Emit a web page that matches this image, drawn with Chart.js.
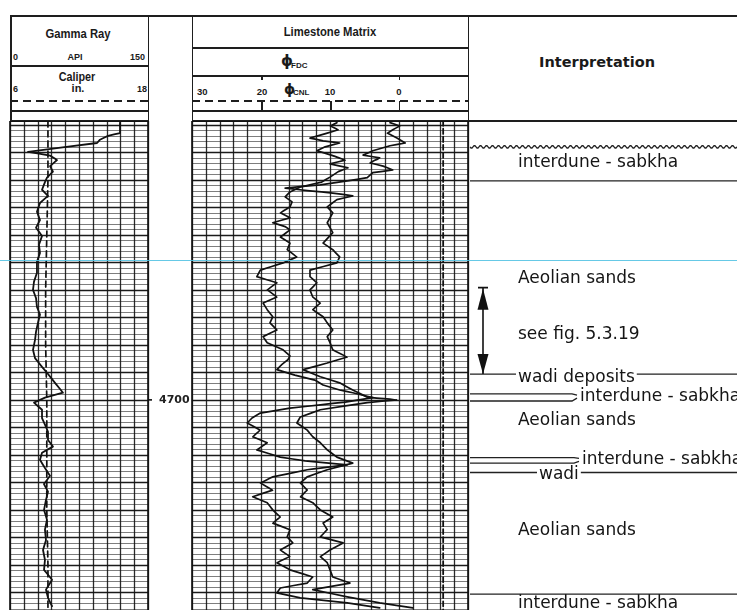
<!DOCTYPE html>
<html><head><meta charset="utf-8">
<script src="https://cdn.jsdelivr.net/npm/chart.js@4.4.0/dist/chart.umd.min.js"></script>
<style>
html,body{margin:0;padding:0;background:#fff;}
#wrap{position:relative;width:737px;height:610px;overflow:hidden;background:#fff;font-family:"Liberation Sans",Arial,sans-serif;color:#1a1a1a;}
.ln{position:absolute;background:#1e1e1e;}
.dash{position:absolute;height:1.6px;background:repeating-linear-gradient(to right,#1e1e1e 0 8px,transparent 8px 13px);}
.t{position:absolute;white-space:nowrap;font-weight:bold;line-height:1;}
.c{transform:translate(-50%,-50%);}
.l{transform:translateY(-50%);}
.r{transform:translate(-100%,-50%);}
canvas{position:absolute;}
#cyan{position:absolute;left:0;top:260px;width:737px;height:1.2px;background:#55c3e3;opacity:.9;z-index:5;}
</style></head>
<body><div id="wrap">
  <!-- header frame -->
  <div class="ln" style="left:10px;top:15px;width:727px;height:1.5px"></div>
  <div class="ln" style="left:10px;top:15px;width:1.5px;height:106px"></div>
  <div class="ln" style="left:147.5px;top:15px;width:1.5px;height:106px"></div>
  <div class="ln" style="left:10px;top:65px;width:138px;height:1.5px"></div>
  <div class="ln" style="left:10px;top:110px;width:138px;height:1.5px"></div>
  <div class="ln" style="left:10px;top:120px;width:138px;height:1.5px"></div>
  <div class="dash" style="left:10px;top:100px;width:138px"></div>

  <div class="ln" style="left:191.5px;top:15px;width:1.5px;height:106px"></div>
  <div class="ln" style="left:467.5px;top:15px;width:1.5px;height:106px"></div>
  <div class="ln" style="left:192px;top:47px;width:276px;height:1.5px"></div>
  <div class="ln" style="left:192px;top:75px;width:276px;height:1.5px"></div>
  <div class="ln" style="left:192px;top:110px;width:276px;height:1.5px"></div>
  <div class="ln" style="left:192px;top:120px;width:545px;height:1.5px"></div>
  <div class="dash" style="left:192px;top:100px;width:276px"></div>
  <div class="ln" style="left:261px;top:75px;width:1.5px;height:5px"></div>
  <div class="ln" style="left:398.5px;top:75px;width:1.5px;height:5px"></div>
  <div class="ln" style="left:261px;top:101px;width:1.5px;height:9px"></div>
  <div class="ln" style="left:330px;top:101px;width:1.5px;height:9px"></div>
  <div class="ln" style="left:398.5px;top:101px;width:1.5px;height:9px"></div>

  <!-- track 1 header text -->
  <div class="t" style="left:78px;top:34px;font-size:12.5px;transform:translate(-50%,-50%) scaleX(.9)">Gamma Ray</div>
  <div class="t l" style="left:13px;top:57px;font-size:9px">0</div>
  <div class="t c" style="left:75px;top:57px;font-size:9px">API</div>
  <div class="t r" style="left:145px;top:57px;font-size:9px">150</div>
  <div class="t" style="left:77px;top:77px;font-size:12px;transform:translate(-50%,-50%) scaleX(.9)">Caliper</div>
  <div class="t l" style="left:13px;top:89px;font-size:9px">6</div>
  <div class="t c" style="left:78px;top:88px;font-size:11px">in.</div>
  <div class="t r" style="left:147px;top:89px;font-size:9px">18</div>

  <!-- track 2 header text -->
  <div class="t" style="left:330px;top:32px;font-size:12.5px;transform:translate(-50%,-50%) scaleX(.9)">Limestone Matrix</div>
  <div class="t l" style="left:281px;top:61px;font-size:15px;font-family:'DejaVu Sans'">ϕ</div>
  <div class="t l" style="left:291px;top:66px;font-size:8px">FDC</div>
  <div class="t l" style="left:197px;top:92px;font-size:9.5px">30</div>
  <div class="t c" style="left:262px;top:92px;font-size:9.5px">20</div>
  <div class="t l" style="left:284px;top:89px;font-size:14px;font-family:'DejaVu Sans'">ϕ</div>
  <div class="t l" style="left:293px;top:93px;font-size:8px">CNL</div>
  <div class="t c" style="left:330px;top:92px;font-size:9.5px">10</div>
  <div class="t c" style="left:399px;top:92px;font-size:9.5px">0</div>

  <div class="t c" style="left:597px;top:62px;font-size:14.5px;font-family:'DejaVu Sans'">Interpretation</div>

  <canvas id="c1" width="184" height="489" style="left:8px;top:121px"></canvas>
  <canvas id="c2" width="281" height="489" style="left:190px;top:121px"></canvas>
  <canvas id="c3" width="269" height="489" style="left:468px;top:121px"></canvas>
  <div id="cyan"></div>
</div>
<script>
// ---------- data ----------
const depthTop = 4649.3, depthBottom = 4738.2;
const depthLabels = [4700];

const grGridValues = [0,15,30,45,60,75,90,105,120,135,150];
const phiGridValues = [30,28,26,24,22,20,18,16,14,12,10,8,6,4,2,0,-2,-4,-6,-8,-10];

const depthGR = [4649.6,4651.5,4652.0,4652.7,4653.3,4654.9,4655.6,4656.4,4657.5,4658.5,4659.6,4660.4,4661.8,4662.9,4664.2,4665.8,4667.3,4668.7,4670.2,4671.8,4673.3,4674.9,4676.9,4678.5,4680.0,4681.5,4683.1,4684.5,4686.0,4687.6,4689.1,4690.9,4692.4,4694.0,4695.3,4696.9,4698.7,4699.6,4700.5,4701.8,4703.3,4704.5,4705.8,4707.3,4708.5,4709.6,4710.9,4712.4,4713.8,4715.3,4716.7,4718.2,4720.0,4721.8,4723.6,4725.5,4727.3,4729.1,4730.9,4732.7,4734.5,4736.0,4737.5];
const gammaRay = [119.6,119.6,106.5,97.8,94.6,19.6,43.5,51.1,43.5,46.7,40.2,38.0,34.8,41.3,32.6,29.3,32.6,28.3,34.8,31.5,32.6,29.3,29.3,26.1,25.0,28.3,29.3,32.6,30.4,28.3,27.2,25.0,27.2,34.8,41.3,48.9,57.6,38.0,26.1,34.8,34.8,38.0,41.3,41.3,46.7,34.8,32.6,38.0,43.5,36.9,41.3,39.1,37.0,40.2,38.0,39.1,35.9,38.0,37.0,45.7,39.1,41.3,45.7];

const depthCAL = [4649.3,4660,4670,4680,4690,4700,4710,4720,4730,4738.2];
const caliper = [9.3,9.3,9.2,9.1,9.1,9.2,9.2,9.2,9.3,9.3];

const depthFDC = [4649.6,4650.2,4650.9,4651.5,4652.4,4652.9,4653.3,4654.0,4654.7,4655.6,4656.4,4657.1,4657.8,4658.5,4659.5,4660.4,4661.3,4662.2,4663.1,4664.0,4664.9,4666.0,4666.9,4667.8,4668.5,4669.1,4670.4,4671.5,4672.7,4674.0,4675.1,4676.4,4677.6,4678.7,4680.0,4681.3,4682.4,4683.6,4684.9,4686.0,4687.3,4688.5,4689.6,4690.9,4692.0,4692.7,4693.6,4694.5,4695.5,4696.4,4697.3,4698.2,4698.7,4699.6,4700.4,4700.9,4701.5,4702.4,4703.3,4704.2,4705.5,4706.7,4707.8,4709.1,4710.4,4711.1,4711.8,4712.4,4712.7,4714.0,4715.1,4716.4,4717.6,4718.7,4720.0,4721.3,4722.4,4723.6,4724.9,4726.0,4727.3,4728.5,4729.6,4730.9,4732.2,4733.3,4734.2,4735.1,4736.0,4736.9,4737.8];
const phiFDC = [9.0,10.0,8.8,10.4,12.9,11.0,8.6,10.7,11.9,9.6,7.8,10.0,7.4,8.8,10.0,11.2,14.3,15.8,16.5,15.5,15.8,17.2,15.8,18.3,16.5,15.8,17.2,15.8,16.2,14.8,16.8,20.1,20.6,17.7,19.1,17.7,19.7,19.1,18.3,18.7,17.7,19.7,19.1,16.8,15.8,16.1,17.0,17.7,15.1,12.2,11.0,8.6,6.7,3.8,7.8,11.4,15.8,20.1,21.3,22.0,20.1,21.2,19.1,20.6,17.2,13.6,7.5,11.4,13.3,18.3,20.1,18.3,21.2,19.1,18.3,17.2,18.3,15.8,16.2,15.4,17.2,15.8,17.7,15.8,12.5,13.3,17.2,17.7,14.3,7.5,2.8];

const depthCNL = [4649.6,4650.2,4650.9,4651.5,4652.4,4653.3,4653.8,4654.7,4655.5,4656.0,4656.9,4657.5,4658.2,4658.7,4659.6,4660.2,4660.9,4661.5,4662.0,4662.4,4662.9,4663.6,4664.9,4666.0,4667.8,4669.6,4671.5,4672.7,4674.0,4675.1,4676.4,4677.6,4678.7,4680.0,4681.3,4682.4,4683.6,4684.9,4686.0,4687.3,4688.5,4689.6,4690.9,4692.2,4693.3,4694.5,4695.8,4696.9,4698.2,4699.5,4700.0,4700.5,4701.8,4703.1,4704.2,4705.5,4706.7,4707.8,4709.1,4710.4,4711.5,4712.7,4714.0,4715.1,4716.4,4717.6,4718.7,4720.0,4721.3,4722.4,4723.6,4724.9,4726.0,4727.3,4728.5,4729.6,4730.9,4732.2,4733.3,4734.5,4735.8,4736.9,4737.8];
const phiCNL = [1.3,-0.1,0.9,1.7,0.3,-0.9,1.3,3.8,5.2,2.8,4.2,2.3,0.9,3.8,4.6,7.5,11.4,16.5,12.9,9.6,6.7,9.0,10.4,9.6,10.4,9.6,11.0,9.6,8.6,9.0,12.9,12.9,11.9,12.9,12.5,11.4,12.5,11.0,10.4,9.6,10.4,10.0,9.6,7.5,10.4,13.9,11.4,8.6,6.7,4.6,0.3,4.6,11.4,14.3,14.8,13.3,12.5,11.4,10.4,9.0,6.7,10.4,13.3,14.3,13.3,14.3,12.5,11.4,9.6,11.0,10.4,11.4,8.1,10.0,11.4,10.4,10.0,9.6,7.1,12.5,7.5,2.8,-2.0];

const depthRef = [4649.3,4738.2];
const refCurve = [-6.4,-6.4];

const zoneLabels = ['interdune - sabkha','Aeolian sands','see fig. 5.3.19','wadi deposits','interdune - sabkha','Aeolian sands','interdune - sabkha','wadi','Aeolian sands','interdune - sabkha'];
const zoneLabelDepths = [4656.9,4678.0,4688.2,4696.0,4699.4,4703.8,4710.9,4713.6,4723.8,4737.1];
const zoneLineDepths = [4654.0,4660.2,4695.3,4698.9,4700.2,4710.5,4711.5,4713.2,4735.3];
const arrowDepths = [4679.6,4695.3];

// ---------- helpers ----------
const pts = (ds, vs) => ds.map((d, i) => ({x: vs[i], y: d}));

const trackPlugin = {
  id: 'track',
  beforeDatasetsDraw(chart, args, o) {
    const {ctx, chartArea: a, scales: {x, y}} = chart;
    ctx.save();
    for (let d = Math.ceil(y.min); d <= y.max; d++) {
      const py = Math.round(y.getPixelForValue(d)) + 0.5;
      const heavy = d % 5 === 0;
      ctx.strokeStyle = heavy ? 'rgba(15,15,15,0.95)' : 'rgba(40,40,40,0.6)';
      ctx.lineWidth = heavy ? 1.6 : 1;
      ctx.beginPath(); ctx.moveTo(a.left, py); ctx.lineTo(a.right, py); ctx.stroke();
    }
    ctx.strokeStyle = 'rgba(20,20,20,0.9)';
    ctx.lineWidth = 1.3;
    o.xValues.forEach(v => {
      const px = Math.round(x.getPixelForValue(v)) + 0.5;
      ctx.beginPath(); ctx.moveTo(px, a.top); ctx.lineTo(px, a.bottom); ctx.stroke();
    });
    ctx.restore();
  },
  afterDraw(chart, args, o) {
    const {ctx, chartArea: a, scales: {y}} = chart;
    ctx.save();
    ctx.strokeStyle = '#111'; ctx.lineWidth = 1.6;
    ctx.strokeRect(a.left, a.top, a.right - a.left, a.bottom - a.top + 4);
    if (o.depthLabels) {
      ctx.fillStyle = '#222';
      ctx.font = 'bold 11px "DejaVu Sans"';
      ctx.textBaseline = 'middle';
      o.depthLabels.forEach(d => {
        const py = y.getPixelForValue(d);
        ctx.beginPath(); ctx.moveTo(a.right, py); ctx.lineTo(a.right + 4, py); ctx.stroke();
        ctx.fillText(String(d), a.right + 11, py);
      });
    }
    ctx.restore();
  }
};

const baseOpts = (xmin, xmax, rev, pad, plugOpts) => ({
  responsive: false, animation: false, devicePixelRatio: 1,
  layout: {padding: pad},
  plugins: {legend: {display: false}, tooltip: {enabled: false}, track: plugOpts},
  elements: {point: {radius: 0}, line: {tension: 0.001, borderCapStyle: 'round', borderJoinStyle: 'round'}},
  scales: {
    x: {type: 'linear', display: false, min: xmin, max: xmax, reverse: rev},
    y: {type: 'linear', display: false, min: depthTop, max: depthBottom, reverse: true}
  }
});

new Chart(document.getElementById('c1'), {
  type: 'line',
  data: {datasets: [
    {label: 'Gamma Ray (API)', data: pts(depthGR, gammaRay), borderColor: '#111', borderWidth: 1.8, xAxisID: 'x'},
    {label: 'Caliper (in.)', data: pts(depthCAL, caliper), borderColor: '#111', borderWidth: 1.7, borderDash: [6, 4], xAxisID: 'xc'}
  ]},
  options: (() => {
    const o = baseOpts(0, 150, false, {left: 2, right: 44, top: 0, bottom: 0}, {xValues: grGridValues, depthLabels: depthLabels});
    o.scales.xc = {type: 'linear', display: false, min: 6, max: 18};
    return o;
  })(),
  plugins: [trackPlugin]
});

new Chart(document.getElementById('c2'), {
  type: 'line',
  data: {datasets: [
    {label: 'φFDC', data: pts(depthFDC, phiFDC), borderColor: '#111', borderWidth: 1.7},
    {label: 'φCNL', data: pts(depthCNL, phiCNL), borderColor: '#111', borderWidth: 1.7},
    {label: 'ref', data: pts(depthRef, refCurve), borderColor: '#111', borderWidth: 1.8, borderDash: [5, 3]}
  ]},
  options: baseOpts(-10, 30, true, {left: 2, right: 3, top: 0, bottom: 0}, {xValues: phiGridValues}),
  plugins: [trackPlugin]
});

const interpPlugin = {
  id: 'interp',
  afterDraw(chart, args, o) {
    const {ctx, chartArea: a, scales: {y}} = chart;
    ctx.save();
    ctx.font = '17px "DejaVu Sans"';
    ctx.fillStyle = '#151515';
    ctx.textBaseline = 'middle';
    const widths = zoneLabels.map(t => ctx.measureText(t).width);
    zoneLabels.forEach((t, i) => ctx.fillText(t, o.labelX[i], y.getPixelForValue(zoneLabelDepths[i])));
    ctx.strokeStyle = '#222'; ctx.lineWidth = 1.3;
    const x0 = a.left + 2;
    zoneLineDepths.forEach((d, i) => {
      const py = y.getPixelForValue(d);
      const s = o.lines[i];
      ctx.beginPath();
      if (s.k === 'wavy') {
        for (let x = x0; x <= a.right; x += 1) {
          const yy = py + 1.3 * Math.sin((x - x0) / 6 * 2 * Math.PI);
          if (x === x0) ctx.moveTo(x, yy); else ctx.lineTo(x, yy);
        }
      } else if (s.k === 'full') {
        ctx.moveTo(x0, py); ctx.lineTo(a.right, py);
      } else if (s.k === 'to') {
        const lx = o.labelX[s.label];
        const ly = y.getPixelForValue(zoneLabelDepths[s.label]);
        ctx.moveTo(x0, py); ctx.lineTo(lx - 8, py); ctx.lineTo(lx - 3, ly + (py < ly ? -1.5 : 1.5));
      } else if (s.k === 'gap') {
        const lx = o.labelX[s.label];
        ctx.moveTo(x0, py); ctx.lineTo(lx - 2, py);
        ctx.moveTo(lx + widths[s.label] + 2, py); ctx.lineTo(a.right, py);
      }
      ctx.stroke();
    });
    // arrow
    const ax = a.left + 15;
    const p1 = y.getPixelForValue(arrowDepths[0]);
    const p2 = y.getPixelForValue(arrowDepths[1]);
    ctx.strokeStyle = '#111'; ctx.fillStyle = '#111'; ctx.lineWidth = 1.6;
    ctx.beginPath(); ctx.moveTo(ax - 5, p1); ctx.lineTo(ax + 5, p1); ctx.moveTo(ax, p1); ctx.lineTo(ax, p2); ctx.stroke();
    ctx.beginPath(); ctx.moveTo(ax, p1 + 1); ctx.lineTo(ax - 5.5, p1 + 22); ctx.lineTo(ax + 5.5, p1 + 22); ctx.closePath(); ctx.fill();
    ctx.beginPath(); ctx.moveTo(ax, p2); ctx.lineTo(ax - 5.5, p2 - 20); ctx.lineTo(ax + 5.5, p2 - 20); ctx.closePath(); ctx.fill();
    ctx.restore();
  }
};

new Chart(document.getElementById('c3'), {
  type: 'line',
  data: {datasets: []},
  options: {
    responsive: false, animation: false, devicePixelRatio: 1,
    layout: {padding: 0},
    plugins: {legend: {display: false}, tooltip: {enabled: false},
      interp: {
        labelX: [50, 50, 50, 50, 112, 50, 114, 71, 50, 50],
        lines: [{k: 'wavy'}, {k: 'full'}, {k: 'gap', label: 3}, {k: 'to', label: 4}, {k: 'to', label: 4}, {k: 'to', label: 6}, {k: 'to', label: 6}, {k: 'gap', label: 7}, {k: 'full'}]
      }
    },
    scales: {
      x: {type: 'linear', display: false, min: 0, max: 1},
      y: {type: 'linear', display: false, min: depthTop, max: depthBottom, reverse: true}
    }
  },
  plugins: [interpPlugin]
});
</script>
</body></html>
